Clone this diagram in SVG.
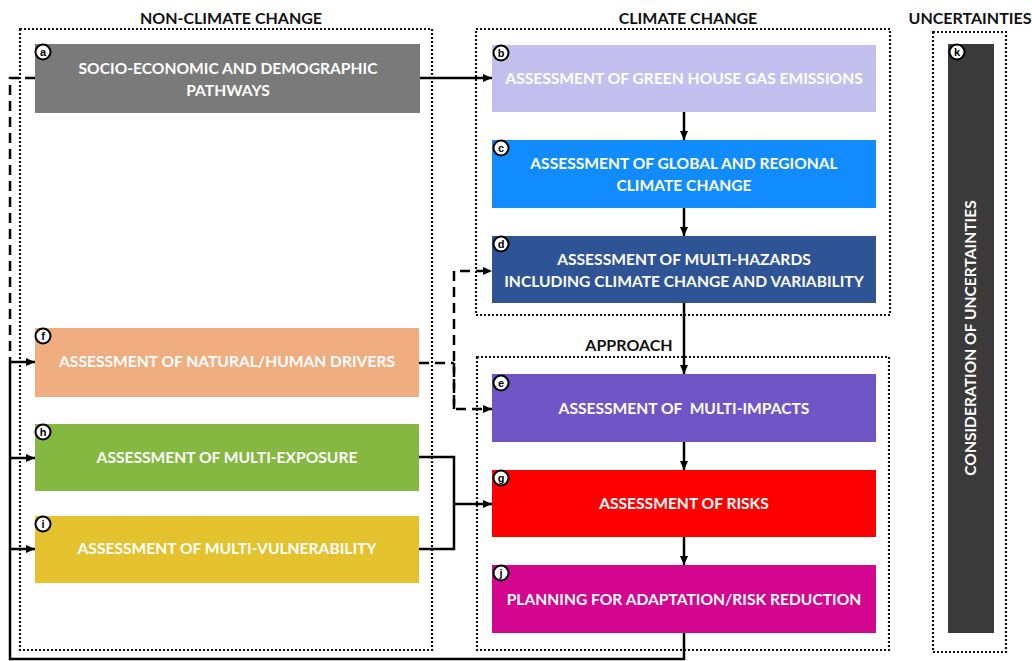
<svg xmlns="http://www.w3.org/2000/svg" width="1032" height="661" viewBox="0 0 1032 661">
<defs>
<marker id="arr" markerUnits="userSpaceOnUse" markerWidth="10" markerHeight="10" refX="9" refY="5" orient="auto">
<path d="M0,1 L9,5 L0,9 Z" fill="#000"/>
</marker>
<style>
.title{font-family:Lato,"Open Sans","Liberation Sans",sans-serif;font-weight:bold;font-size:16px;fill:#111;text-anchor:middle}
.lbl{font-family:Lato,"Open Sans","Liberation Sans",sans-serif;font-weight:bold;font-size:15.6px;fill:#fff;text-anchor:middle}
.grp{fill:none;stroke:#111;stroke-width:2.2;stroke-dasharray:2 2}
.badge circle{fill:#fff;stroke:#000;stroke-width:2}
.badge text{font-family:"Liberation Sans",Arial,sans-serif;font-weight:bold;font-size:11px;fill:#000;text-anchor:middle}
.sol{fill:none;stroke:#000;stroke-width:2.5}
.dash{fill:none;stroke:#000;stroke-width:2.5;stroke-dasharray:10 6}
</style>
</defs>
<rect width="1032" height="661" fill="#fff"/>

<g id="groups">
<text class="title" x="231" y="24">NON-CLIMATE CHANGE</text>
<rect class="grp" x="20" y="29" width="412" height="621"/>
<text class="title" x="688" y="24">CLIMATE CHANGE</text>
<rect class="grp" x="476" y="29" width="414" height="286"/>
<text class="title" x="629" y="351">APPROACH</text>
<rect class="grp" x="477" y="357" width="412" height="293"/>
<text class="title" x="970" y="24">UNCERTAINTIES</text>
<rect class="grp" x="933" y="32" width="73" height="620"/>
</g>

<g id="connectors">
<line class="sol" x1="420" y1="78" x2="492" y2="78" marker-end="url(#arr)"/>
<line class="sol" x1="684" y1="112" x2="684" y2="140" marker-end="url(#arr)"/>
<line class="sol" x1="684" y1="208" x2="684" y2="236" marker-end="url(#arr)"/>
<line class="sol" x1="684" y1="303" x2="684" y2="374" marker-end="url(#arr)"/>
<line class="sol" x1="684" y1="442" x2="684" y2="470" marker-end="url(#arr)"/>
<line class="sol" x1="684" y1="537" x2="684" y2="565" marker-end="url(#arr)"/>
<polyline class="sol" points="684,633 684,659 10,659 10,362"/>
<polyline class="sol" points="10,362 35,362" marker-end="url(#arr)"/>
<polyline class="sol" points="10,458 35,458" marker-end="url(#arr)"/>
<polyline class="sol" points="10,549 35,549" marker-end="url(#arr)"/>
<polyline class="dash" points="35,78 10,78 10,362"/>
<polyline class="dash" points="419,363 454,363"/>
<polyline class="dash" points="454,409 454,271 492,271" marker-end="url(#arr)"/>
<polyline class="dash" points="454,363 454,409 492,409" marker-end="url(#arr)"/>
<polyline class="sol" points="419,457 454,457 454,549 419,549"/>
<line class="sol" x1="454" y1="504" x2="492" y2="504" marker-end="url(#arr)"/>
</g>

<g id="node-a">
<rect x="35" y="44" width="385" height="69" fill="#7a7a7a"/>
<text class="lbl" x="228" y="74">SOCIO-ECONOMIC AND DEMOGRAPHIC</text>
<text class="lbl" x="228" y="96">PATHWAYS</text>
<g class="badge"><circle cx="43" cy="52" r="7.5"/><text x="43" y="56">a</text></g>
</g>

<g id="node-b">
<rect x="492" y="45" width="384" height="67" fill="#c3c0f0"/>
<text class="lbl" x="684" y="84">ASSESSMENT OF GREEN HOUSE GAS EMISSIONS</text>
<g class="badge"><circle cx="501" cy="53" r="7.5"/><text x="501" y="57">b</text></g>
</g>

<g id="node-c">
<rect x="492" y="140" width="384" height="68" fill="#118cff"/>
<text class="lbl" x="684" y="169">ASSESSMENT OF GLOBAL AND REGIONAL</text>
<text class="lbl" x="684" y="191">CLIMATE CHANGE</text>
<g class="badge"><circle cx="501" cy="148" r="7.5"/><text x="501" y="152">c</text></g>
</g>

<g id="node-d">
<rect x="492" y="236" width="384" height="67" fill="#2f5496"/>
<text class="lbl" x="684" y="265">ASSESSMENT OF MULTI-HAZARDS</text>
<text class="lbl" x="684" y="287">INCLUDING CLIMATE CHANGE AND VARIABILITY</text>
<g class="badge"><circle cx="501" cy="244" r="7.5"/><text x="501" y="248">d</text></g>
</g>

<g id="node-e">
<rect x="492" y="374" width="384" height="68" fill="#6f55c5"/>
<text class="lbl" x="684" y="414" xml:space="preserve">ASSESSMENT OF  MULTI-IMPACTS</text>
<g class="badge"><circle cx="501" cy="383" r="7.5"/><text x="501" y="387">e</text></g>
</g>

<g id="node-g">
<rect x="492" y="470" width="384" height="67" fill="#ff0000"/>
<text class="lbl" x="684" y="509">ASSESSMENT OF RISKS</text>
<g class="badge"><circle cx="501" cy="478" r="7.5"/><text x="501" y="482">g</text></g>
</g>

<g id="node-j">
<rect x="492" y="565" width="384" height="68" fill="#d4058f"/>
<text class="lbl" x="684" y="605">PLANNING FOR ADAPTATION/RISK REDUCTION</text>
<g class="badge"><circle cx="501" cy="573" r="7.5"/><text x="501" y="577">j</text></g>
</g>

<g id="node-f">
<rect x="35" y="328" width="384" height="69" fill="#f0ad80"/>
<text class="lbl" x="227" y="367">ASSESSMENT OF NATURAL/HUMAN DRIVERS</text>
<g class="badge"><circle cx="43" cy="336" r="7.5"/><text x="43" y="340">f</text></g>
</g>

<g id="node-h">
<rect x="35" y="424" width="384" height="67" fill="#84b840"/>
<text class="lbl" x="227" y="463">ASSESSMENT OF MULTI-EXPOSURE</text>
<g class="badge"><circle cx="43" cy="432" r="7.5"/><text x="43" y="436">h</text></g>
</g>

<g id="node-i">
<rect x="35" y="516" width="384" height="67" fill="#e3c22e"/>
<text class="lbl" x="227" y="554">ASSESSMENT OF MULTI-VULNERABILITY</text>
<g class="badge"><circle cx="43" cy="524" r="7.5"/><text x="43" y="528">i</text></g>
</g>

<g id="node-k">
<rect x="948" y="44" width="46" height="589" fill="#3a3a3a"/>
<text class="lbl" transform="translate(976,338) rotate(-90)" x="0" y="0">CONSIDERATION OF UNCERTAINTIES</text>
<g class="badge"><circle cx="957" cy="52" r="7.5"/><text x="957" y="56">k</text></g>
</g>
</svg>
